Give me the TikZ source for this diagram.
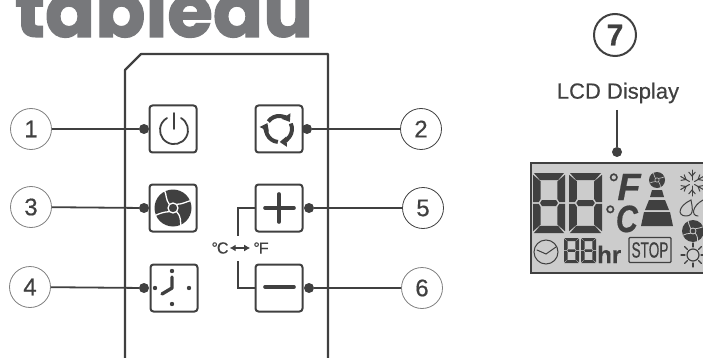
\documentclass[tikz,border=0pt]{standalone}
\usepackage{fontspec}
\setmainfont[FakeBold=0.5]{Liberation Sans}
\newfontfamily\logofont[FakeBold=1.5]{Poppins}
\usepackage{xcolor}
\usetikzlibrary{arrows.meta}
\definecolor{inkGray}{HTML}{404040}
\definecolor{logoGray}{HTML}{77787B}
\definecolor{lcdGray}{HTML}{CCCCCC}
\tikzset{
box/.style = {rectangle, draw=inkGray, line width=2pt, rounded corners=3pt, minimum size=47pt, inner sep=0pt},
num/.style = {circle, draw=#1, line width=0.8pt, minimum size=41pt, inner sep=0pt, text=inkGray, font=\fontsize{24}{24}\selectfont},
num/.default = gray,
dotnode/.style = {circle, fill=inkGray, minimum size=10pt, inner sep=0pt},
wire/.style = {draw=inkGray, line width=1.8pt},
icon/.style = {draw=inkGray, line width=#1, line cap=round},
icon/.default = 1.8pt,
}
% one seven segment digit: x, y, width, height
\newcommand{\lcdDigit}[4]{
  \begin{scope}[shift={(#1,#2)}, x=#3pt, y=-#4pt]
    \fill[inkGray] (.03,0) -- (.97,0) -- (.78,.12) -- (.22,.12) -- cycle;
    \fill[inkGray] (.03,1) -- (.97,1) -- (.78,.88) -- (.22,.88) -- cycle;
    \fill[inkGray] (.28,.45) -- (.72,.45) -- (.78,.5) -- (.72,.55) -- (.28,.55) -- (.22,.5) -- cycle;
    \fill[inkGray] (0,.03) -- (.24,.14) -- (.24,.43) -- (.18,.485) -- (0,.485) -- cycle;
    \fill[inkGray] (1,.03) -- (.76,.14) -- (.76,.43) -- (.82,.485) -- (1,.485) -- cycle;
    \fill[inkGray] (0,.97) -- (.24,.86) -- (.24,.57) -- (.18,.515) -- (0,.515) -- cycle;
    \fill[inkGray] (1,.97) -- (.76,.86) -- (.76,.57) -- (.82,.515) -- (1,.515) -- cycle;
  \end{scope}
}
% fan: x, y, radius, colour of the gaps
\newcommand{\fanIcon}[4]{
  \begin{scope}[shift={(#1,#2)}, x=#3pt, y=#3pt]
    \fill[inkGray] (0,0) circle (#3pt);
    \draw[#4, line width=.07pt*#3] (.2,-.2) .. controls (.45,-.45) and (.4,-.75) .. (.42,-.95);
    \draw[#4, line width=.07pt*#3] (.2,.2) .. controls (.5,.2) and (.75,.35) .. (.95,.4);
    \draw[#4, line width=.07pt*#3] (-.2,.2) .. controls (-.4,.45) and (-.35,.75) .. (-.45,.92);
    \draw[#4, line width=.07pt*#3] (-.2,-.2) .. controls (-.45,-.2) and (-.75,-.3) .. (-.95,-.4);
    \draw[#4, line width=.07pt*#3] (0,0) circle (.27*#3pt);
  \end{scope}
}
% small degree sign for the big letters
\newcommand{\lcdDegree}{\raisebox{7pt}{\fontsize{28}{28}\selectfont °}}
\begin{document}
\begin{tikzpicture}[x=1pt, y=-1pt]
    \useasboundingbox (0,0) rectangle (703,358);
    \clip (0,0) rectangle (703,358);

    \node[anchor=base, inner sep=0pt, text=logoGray, font=\logofont\bfseries\fontsize{74}{74}\selectfont] (logoText) at (164,37) {tableau};

    % remote outline
    \draw[wire, line width=2.2pt, line join=round] (125,358) -- (125,70) -- (141,54) -- (328,54) -- (328,358);

    % buttons
    \node[box] (powerBox) at (173,129) {};
    \node[box] (swingBox) at (279,129) {};
    \node[box] (fanBox) at (173,208) {};
    \node[box] (plusBox) at (279,208) {};
    \node[box] (timerBox) at (174,288) {};
    \node[box] (minusBox) at (279,288) {};

    % numbers
    \node[num] (numOne) at (31,129) {1};
    \node[num=inkGray] (numTwo) at (421,129) {2};
    \node[num] (numThree) at (31,207) {3};
    \node[num] (numFour) at (30,287) {4};
    \node[num=inkGray] (numFive) at (423,208) {5};
    \node[num] (numSix) at (422,288) {6};

    % dots beside the buttons
    \node[dotnode] (dotOne) at (144,129) {};
    \node[dotnode] (dotTwo) at (307,129) {};
    \node[dotnode] (dotThree) at (144,208) {};
    \node[dotnode] (dotFour) at (144,288) {};
    \node[dotnode] (dotFive) at (309,208) {};
    \node[dotnode] (dotSix) at (309,288) {};

    \draw[wire] (numOne) -- (dotOne);
    \draw[wire] (numTwo) -- (dotTwo);
    \draw[wire] (numThree) -- (dotThree);
    \draw[wire] (numFour) -- (dotFour);
    \draw[wire] (numFive) -- (dotFive);
    \draw[wire] (numSix) -- (dotSix);

    % temperature switch
    \node[inner sep=0pt, text=inkGray, font=\fontsize{16}{16}\selectfont] (tempC) at (220,248) {°\kern-1pt C};
    \node[inner sep=0pt, text=inkGray, font=\fontsize{16}{16}\selectfont] (tempF) at (261,248) {°\kern-1pt F};
    \coordinate (plusEnd) at (238,236);
    \coordinate (minusEnd) at (238,261);
    \draw[wire] (plusBox) -- (238,208) -- (plusEnd);
    \draw[wire] (minusBox) -- (238,288) -- (minusEnd);
    \draw[{Latex[length=6pt,width=7pt]}-{Latex[length=6pt,width=7pt]}, wire, shorten <=1pt, shorten >=3pt] (tempC) -- (tempF);

    % power icon
    \draw[icon] (181,118) arc[start angle=60, end angle=-240, radius=14pt];
    \draw[icon] (174,113) -- (174,129);

    % swing icon
    \foreach \ang in {25,145,265} {
      \draw[draw=inkGray, line width=4pt, -{Triangle[length=7pt,width=10pt]}]
        (279,129) ++(\ang:13pt) arc[start angle=\ang, delta angle=-112, radius=13pt];
    }

    % fan icon
    \fanIcon{173}{208}{18.5}{white}

    % plus and minus icons
    \draw[icon=3.6pt] (265,208) -- (294,208);
    \draw[icon=3.6pt] (279,194) -- (279,222);
    \draw[icon=3.6pt] (265,287) -- (294,287);

    % timer icon
    \fill[inkGray] (172,271) circle (2.2pt) (155,288) circle (2.2pt) (189,288) circle (2.2pt) (172,304) circle (2.2pt);
    \draw[icon=3.4pt, line join=round] (172,277) -- (172,288) -- (162,294);

    % lcd display
    \node[num=inkGray, line width=2pt, minimum size=42pt, font=\bfseries\fontsize{30}{30}\selectfont] (numSeven) at (615,35) {7};
    \node[inner sep=0pt, text=inkGray, font=\fontsize{22}{22}\selectfont] (lcdLabel) at (618,93) {LCD Display};
    \node[rectangle, draw=inkGray, line width=1.6pt, fill=lcdGray, minimum width=190pt, minimum height=110pt, inner sep=0pt, anchor=north west] (lcdBox) at (530,162) {};
    \node[dotnode] (dotSeven) at (617,152) {};
    \coordinate (lcdEnd) at (617,110);
    \draw[wire] (lcdEnd) -- (dotSeven);

    \lcdDigit{533}{173}{32}{60}
    \lcdDigit{569}{173}{33}{60}
    \lcdDigit{564}{238}{15}{25}
    \lcdDigit{581}{238}{15}{25}
    \node[anchor=base west, inner sep=0pt, text=inkGray, font=\bfseries\fontsize{24}{24}\selectfont] (hrText) at (597,263) {hr};

    \node[anchor=base west, inner sep=0pt, text=inkGray, font=\fontsize{38}{38}\selectfont] (lcdF) at (608,200) {\lcdDegree\kern-2pt\bfseries\itshape F};
    \node[anchor=base west, inner sep=0pt, text=inkGray, font=\fontsize{38}{38}\selectfont] (lcdC) at (604.5,232) {\lcdDegree\bfseries\itshape\scalebox{.8}[1]{C}};

    % pyramid under the small fan
    \fanIcon{657}{180}{8}{lcdGray}
    \fill[inkGray] (652,190) -- (662,190) -- (664,197) -- (650,197) -- cycle;
    \fill[inkGray] (649,200) -- (665,200) -- (669,210) -- (645,210) -- cycle;
    \fill[inkGray] (644,212) -- (670,212) -- (673,226) -- (641,226) -- cycle;

    % clock
    \draw[icon=1pt] (546,252) circle (12pt);
    \draw[icon=1pt] (537,250) -- (546,254) -- (556,247);

    % stop box
    \node[rectangle, draw=inkGray, line width=1.2pt, rounded corners=1pt, minimum width=42pt, minimum height=25pt, inner sep=0pt, text=inkGray, font=\fontsize{22}{22}\selectfont] (stopBox) at (650,250) {\scalebox{.62}[1]{STOP}};

    % snowflake
    \foreach \ang in {30,90,150,210,270,330} {
      \draw[icon=1pt] (692,183) ++(\ang:3pt) -- ++(\ang:10pt);
    }
    \foreach \ang in {30,90,150,210,270,330} {
      \draw[icon=1pt] (692,183) ++(\ang:7pt) -- ++(\ang+40:5pt);
      \draw[icon=1pt] (692,183) ++(\ang:7pt) -- ++(\ang-40:5pt);
    }

    % drops
    \draw[icon=1pt] (686,216) .. controls (677,216) and (678,206) .. (691,200) .. controls (692,206) and (695,216) .. (686,216);
    \draw[icon=1pt] (698,216) .. controls (691,216) and (692,206) .. (703,200);

    \fanIcon{693}{231}{11}{lcdGray}

    % sun
    \draw[icon=1.2pt] (693,255) circle (6pt);
    \foreach \ang in {0,45,...,315} {
      \draw[icon=1.2pt] (693,255) ++(\ang:8pt) -- ++(\ang:4pt);
    }
\end{tikzpicture}
\end{document}
